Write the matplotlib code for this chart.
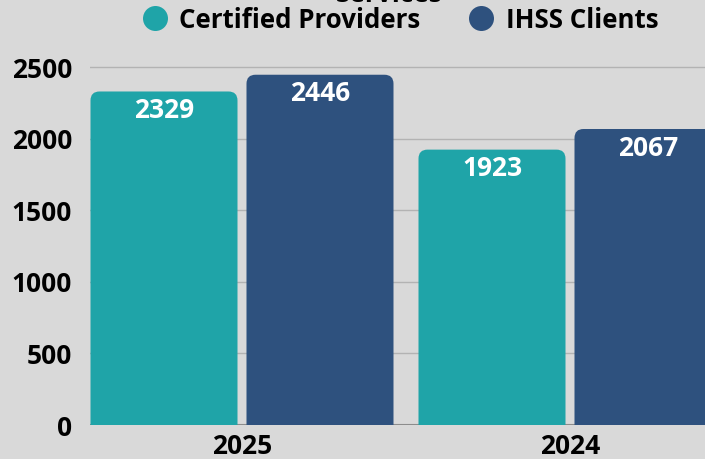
import matplotlib
matplotlib.use('Agg')
import matplotlib.pyplot as plt
from matplotlib.patches import FancyBboxPatch
from matplotlib.lines import Line2D
import numpy as np

# data
years = ['2025', '2024']
providers = [2329, 1923]
clients = [2446, 2067]
series_names = ['Certified Providers', 'IHSS Clients']
yticks = [0, 500, 1000, 1500, 2000, 2500]

colors = {'providers': '#1fa4a8', 'clients': '#2e517e'}
bg = '#d9d9d9'

plt.rcParams['font.family'] = ['Open Sans', 'DejaVu Sans']
plt.rcParams['font.weight'] = 'bold'

fig = plt.figure(figsize=(7.05, 4.59), dpi=100)
fig.patch.set_facecolor(bg)

# axes placed in pixels; the right side runs past the figure edge like the reference crop
W, H = 705, 459
px_per_x = 328.0
x_min, x_max = -0.4634, 1.5
y_max = 2500 * 425 / 358.0
ax = fig.add_axes([90 / W, 34 / H, (x_max - x_min) * px_per_x / W, 425 / H])
ax.set_facecolor(bg)
ax.set_xlim(x_min, x_max)
ax.set_ylim(0, y_max)

x = np.arange(len(years))
width = 147 / px_per_x
offset = 156 / 2 / px_per_x

px_per_y = 358.0 / 2500
radius_px = 9
aspect = px_per_x / px_per_y

for vals, key in [(providers, 'providers'), (clients, 'clients')]:
    sign = -1 if key == 'providers' else 1
    for xi, v in zip(x, vals):
        left = xi + sign * offset - width / 2
        patch = FancyBboxPatch((left, -200), width, v + 200,
                               boxstyle='round,pad=0,rounding_size=%f' % (radius_px / px_per_x),
                               mutation_aspect=aspect,
                               facecolor=colors[key], edgecolor='none', zorder=3)
        ax.add_patch(patch)
        ax.annotate(str(v), (xi + sign * offset, v), xytext=(0, -4),
                    textcoords='offset points', ha='center', va='top',
                    color='white', fontsize=19, fontweight='bold', zorder=4)

for t in yticks[1:]:
    ax.axhline(t, color='#b3b3b3', linewidth=1, zorder=1)
ax.axhline(0, color='#8c8c8c', linewidth=1.5, zorder=2)

for s in ax.spines.values():
    s.set_visible(False)
ax.set_yticks(yticks)
ax.set_yticklabels([str(t) for t in yticks])
ax.set_xticks(x)
ax.set_xticklabels(years)
ax.tick_params(axis='both', length=0, labelsize=19, colors='black')
ax.tick_params(axis='y', pad=13)
ax.tick_params(axis='x', pad=5.5)
for lab in ax.get_xticklabels() + ax.get_yticklabels():
    lab.set_fontweight('bold')

handles = [Line2D([], [], linestyle='none', marker='o', markersize=18,
                  markerfacecolor=colors['providers'], markeredgecolor='none'),
           Line2D([], [], linestyle='none', marker='o', markersize=18,
                  markerfacecolor=colors['clients'], markeredgecolor='none')]
fig.legend(handles, series_names, loc='center', bbox_to_anchor=(400 / W, 1 - 20 / H),
           ncol=2, frameon=False, handlelength=1.0,
           handletextpad=0.45, columnspacing=1.85, borderpad=0,
           prop={'weight': 'bold', 'size': 18.6})

fig.text(389 / W, 1 - 2 / H, 'Services', ha='center', va='baseline',
         fontsize=19, fontweight='bold')

fig.savefig('out.png', dpi=100, facecolor=bg)
